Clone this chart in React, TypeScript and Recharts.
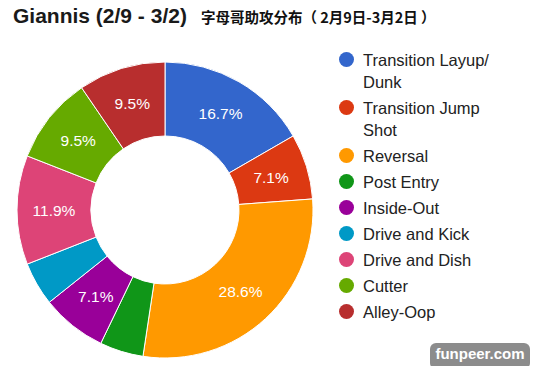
import React from "react";
import { PieChart, Pie, Cell, Legend } from "recharts";

const categories = [
  "Transition Layup/\nDunk",
  "Transition Jump\nShot",
  "Reversal",
  "Post Entry",
  "Inside-Out",
  "Drive and Kick",
  "Drive and Dish",
  "Cutter",
  "Alley-Oop",
];
const assists = [7, 3, 12, 2, 3, 2, 5, 4, 4];
const colors = ["#3366cc", "#dc3912", "#ff9900", "#109618", "#990099", "#0099c6", "#dd4477", "#66aa00", "#b82e2e"];

const data = categories.map((name, i) => ({ name, value: assists[i] }));

const RAD = Math.PI / 180;

function renderLabel(props: any) {
  const { cx, cy, midAngle, innerRadius, outerRadius, percent } = props;
  if (percent < 0.05) return null;
  const r = (innerRadius + outerRadius) / 2;
  const x = cx + r * Math.cos(-midAngle * RAD);
  const y = cy + r * Math.sin(-midAngle * RAD);
  return (
    <text x={x} y={y} fill="#fff" fontSize={15.5} textAnchor="middle" dominantBaseline="central" fontFamily="Liberation Sans, Arial">
      {(percent * 100).toFixed(1) + "%"}
    </text>
  );
}

function renderLegend() {
  return (
    <div style={{ fontFamily: "Liberation Sans, Arial", fontSize: 16.5, color: "#222" }}>
      {data.map((d, i) => (
        <div key={i} style={{ display: "flex", alignItems: "flex-start", marginBottom: 4 }}>
          <span
            style={{
              width: 15,
              height: 15,
              borderRadius: "50%",
              background: colors[i],
              marginTop: 3,
              marginRight: 9,
              flexShrink: 0,
            }}
          />
          <span style={{ whiteSpace: "pre-line", lineHeight: "22px" }}>{d.name}</span>
        </div>
      ))}
    </div>
  );
}

export default function App() {
  return (
    <div style={{ position: "absolute", left: 0, top: 0, width: 550, height: 366, background: "#fff", overflow: "hidden" }}>
      <div style={{ position: "absolute", left: 13, top: 4, display: "flex", alignItems: "baseline", whiteSpace: "pre" }}>
        <span style={{ fontFamily: "Liberation Sans, Arial", fontWeight: "bold", fontSize: 21, color: "#1a1a1a" }}>
          Giannis (2/9 - 3/2)
        </span>
        <span style={{ fontFamily: "Noto Sans CJK SC", fontWeight: "bold", fontSize: 14.5, color: "#111", marginLeft: 14 }}>
          字母哥助攻分布（ 2月9日-3月2日 ）
        </span>
      </div>
      <PieChart width={550} height={366} margin={{ top: 0, right: 0, bottom: 0, left: 0 }}>
        <Pie
          data={data}
          dataKey="value"
          nameKey="name"
          cx={165}
          cy={210}
          innerRadius={74}
          outerRadius={148}
          startAngle={90}
          endAngle={-270}
          stroke="#fff"
          strokeWidth={1}
          label={renderLabel}
          labelLine={false}
          isAnimationActive={false}
        >
          {data.map((_, i) => (
            <Cell key={i} fill={colors[i]} />
          ))}
        </Pie>
        <Legend
          layout="vertical"
          verticalAlign="top"
          align="right"
          content={renderLegend}
          wrapperStyle={{ left: 339, top: 49, width: 200 }}
        />
      </PieChart>
      <div
        style={{
          position: "absolute",
          left: 430,
          top: 343,
          width: 100,
          height: 26,
          background: "#8c8c8c",
          borderRadius: 6,
          color: "#fff",
          fontFamily: "Liberation Sans, Arial",
          fontWeight: "bold",
          fontSize: 15,
          textAlign: "center",
          lineHeight: "22px",
        }}
      >
        funpeer.com
      </div>
    </div>
  );
}
